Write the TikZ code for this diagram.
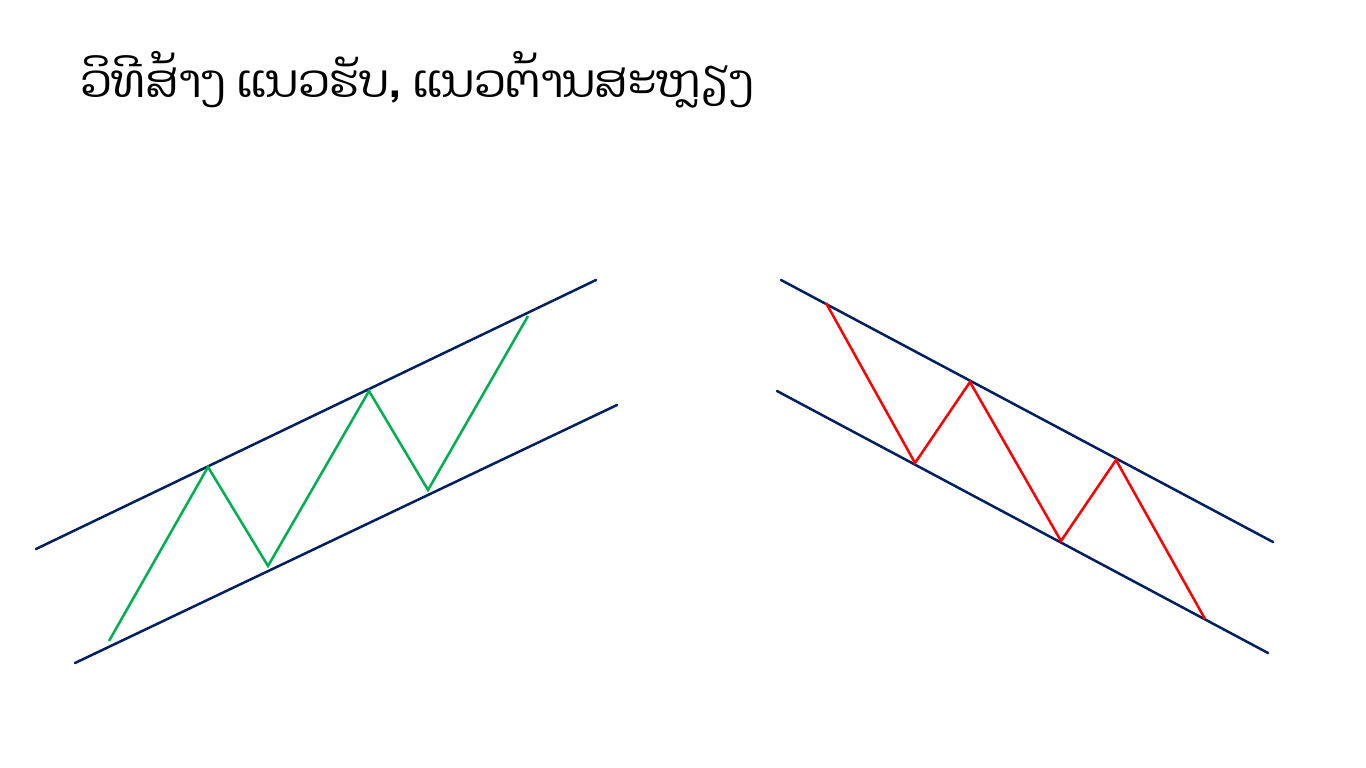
\documentclass[tikz,border=0pt]{standalone}
\usepackage{fontspec}
\newfontfamily\laofont[Script=Lao]{Dhyana}
\definecolor{navy}{HTML}{002060}
\definecolor{upgreen}{HTML}{00B050}
\definecolor{downred}{HTML}{FF0000}
\tikzset{
  chan/.style={draw=navy, line width=2.5pt, line cap=round},
  zigup/.style={draw=upgreen, line width=2.5pt, line join=miter},
  zigdown/.style={draw=downred, line width=2.5pt, line join=miter},
}
\begin{document}
\begin{tikzpicture}[x=1pt,y=-1pt]
\useasboundingbox[fill=white] (0,0) rectangle (1366,768);
\node[anchor=base west, inner sep=0pt, font=\laofont\fontsize{45.7}{52}\selectfont] (title) at (80,98) {ວິທີສ້າງ ແນວຮັບ, ແນວຕ້ານສະຫຼຽງ};
% left channel
\coordinate (lu1) at (36,549); \coordinate (lu2) at (596,280);
\coordinate (ll1) at (75,663); \coordinate (ll2) at (617,405);
\draw[chan] (lu1) -- (lu2);
\draw[chan] (ll1) -- (ll2);
\coordinate (g1) at (109,641); \coordinate (g2) at (208,467);
\coordinate (g3) at (268,566); \coordinate (g4) at (369,391);
\coordinate (g5) at (428,490); \coordinate (g6) at (528,316);
\draw[zigup] (g1) -- (g2) -- (g3) -- (g4) -- (g5) -- (g6);
% right channel
\coordinate (ru1) at (781,280); \coordinate (ru2) at (1273,542);
\coordinate (rl1) at (777,391); \coordinate (rl2) at (1268,653);
\draw[chan] (ru1) -- (ru2);
\draw[chan] (rl1) -- (rl2);
\coordinate (r1) at (826,303); \coordinate (r2) at (915,463);
\coordinate (r3) at (970,382); \coordinate (r4) at (1061,541);
\coordinate (r5) at (1116,460); \coordinate (r6) at (1205,619);
\draw[zigdown] (r1) -- (r2) -- (r3) -- (r4) -- (r5) -- (r6);
\end{tikzpicture}
\end{document}
